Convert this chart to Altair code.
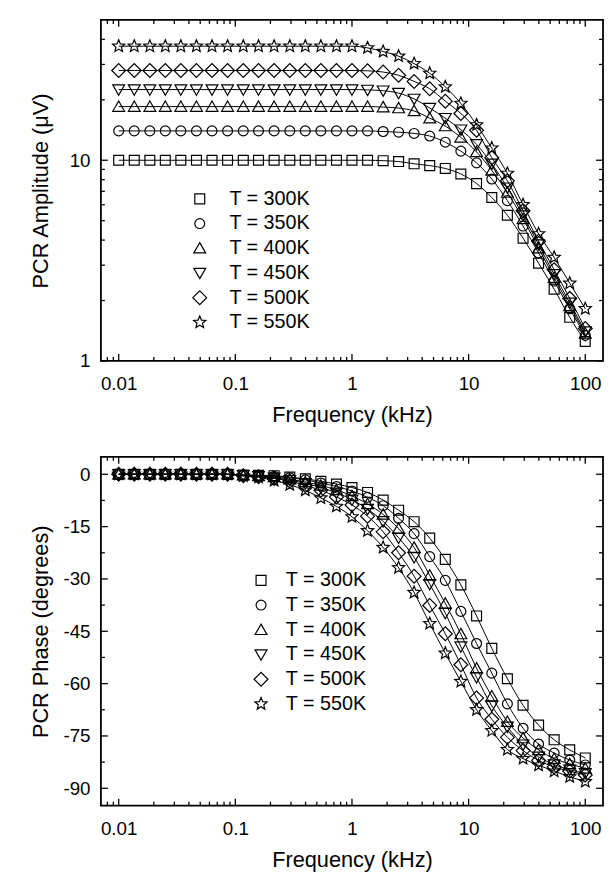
import altair as alt
import pandas as pd

# ---------------- data ----------------
freq_khz = [0.01, 0.0136, 0.0185, 0.0251, 0.0341, 0.0464, 0.0631, 0.0858,
            0.117, 0.158, 0.215, 0.293, 0.398, 0.541, 0.736, 1.0, 1.36,
            1.85, 2.51, 3.41, 4.64, 6.31, 8.58, 11.7, 15.8, 21.5, 29.3,
            39.8, 54.1, 73.6, 100.0]

temps = ["T = 300K", "T = 350K", "T = 400K", "T = 450K", "T = 500K", "T = 550K"]

amp_300 = [10.0] * 17 + [9.95, 9.85, 9.6, 9.4, 9.1, 8.54, 7.65, 6.52, 5.32, 4.09, 3.07, 2.28, 1.65, 1.25]
amp_350 = [14.0] * 17 + [13.9, 13.8, 13.6, 13.2, 12.3, 11.1, 9.7, 8.06, 6.29, 4.7, 3.45, 2.5, 1.82, 1.34]
amp_400 = [18.5] * 17 + [18.4, 18.2, 17.6, 16.2, 14.8, 13.0, 11.0, 8.9, 6.9, 5.1, 3.65, 2.6, 1.88, 1.37]
amp_450 = [22.5] * 16 + [22.4, 22.2, 21.6, 20.2, 18.2, 16.2, 14.2, 12.0, 9.6, 7.3, 5.3, 3.8, 2.7, 1.95, 1.40]
amp_500 = [28.0] * 16 + [27.9, 27.5, 26.5, 24.7, 22.7, 19.7, 17.1, 14.1, 10.3, 7.9, 5.6, 3.95, 2.85, 2.05, 1.45]
amp_550 = [37.0] * 16 + [36.3, 34.8, 33.0, 30.3, 27.1, 23.2, 19.2, 15.0, 11.5, 8.6, 6.0, 4.3, 3.28, 2.44, 1.82]

ph_300 = [0.0] * 8 + [-0.2, -0.3, -0.4, -0.8, -1.3, -2.0, -2.8, -3.8, -5.2, -7.4, -10.3, -13.6, -18.3,
                      -24.4, -31.7, -40.6, -49.9, -58.6, -66.2, -71.9, -76.1, -79.0, -81.3]
ph_350 = [0.0] * 8 + [-0.2, -0.4, -0.6, -1.0, -1.6, -2.5, -3.5, -4.8, -6.6, -9.0, -12.6, -17.0, -23.6,
                      -30.4, -39.3, -48.5, -57.0, -65.8, -72.8, -77.3, -79.9, -81.9, -83.3]
ph_400 = [0.0] * 8 + [-0.3, -0.5, -0.8, -1.4, -2.2, -3.2, -4.5, -6.2, -8.5, -11.5, -15.6, -21.0, -29.0,
                      -37.0, -45.8, -55.6, -63.6, -70.9, -75.6, -79.0, -81.5, -83.0, -84.3]
ph_450 = [0.0] * 8 + [-0.3, -0.6, -1.0, -1.7, -2.6, -3.8, -5.3, -7.3, -10.0, -13.5, -18.2, -23.8, -31.5,
                      -39.8, -49.4, -58.2, -66.4, -72.4, -77.5, -81.0, -83.2, -84.7, -85.7]
ph_500 = [0.0] * 8 + [-0.4, -0.7, -1.2, -2.0, -3.2, -4.6, -6.5, -8.8, -12.0, -16.5, -22.5, -29.2, -37.6,
                      -45.7, -54.6, -64.1, -70.2, -75.4, -79.2, -82.0, -83.9, -85.1, -86.2]
ph_550 = [0.0] * 8 + [-0.5, -0.9, -1.8, -3.0, -4.6, -6.8, -9.2, -12.2, -16.2, -21.0, -26.8, -33.9, -42.8,
                      -51.3, -59.4, -67.5, -73.5, -78.9, -81.5, -83.4, -85.1, -86.7, -88.1]

amp_series = [amp_300, amp_350, amp_400, amp_450, amp_500, amp_550]
ph_series = [ph_300, ph_350, ph_400, ph_450, ph_500, ph_550]

# tick positions
x_major = [0.01, 0.1, 1, 10, 100]
x_minor_mult = [2, 3, 4, 5, 6, 7, 8, 9]
x_minor = [0.008, 0.009] + [m * d for d in [0.01, 0.1, 1, 10] for m in x_minor_mult]
amp_major = [1, 10]
amp_minor = [2, 3, 4, 5, 6, 7, 8, 9, 20, 30, 40]
ph_major = [0, -15, -30, -45, -60, -75, -90]
ph_minor = [-7.5, -22.5, -37.5, -52.5, -67.5, -82.5]

rows = []
for t, a, p in zip(temps, amp_series, ph_series):
    for f, av, pv in zip(freq_khz, a, p):
        rows.append({"f": f, "T": t, "amp": av, "phase": pv})
df = pd.DataFrame(rows)

# ---------------- marker shapes (open symbols, unit box -1..1) ----------------
STAR = ("M0,-1.3L0.344,-0.473L1.236,-0.402L0.556,0.181L0.764,1.052L0,0.585"
        "L-0.764,1.052L-0.556,0.181L-1.236,-0.402L-0.344,-0.473Z")
shapes = [
    "square",
    "circle",
    "M0,-1.15L1.2,0.95L-1.2,0.95Z",      # triangle up
    "M0,1.15L1.2,-0.95L-1.2,-0.95Z",     # triangle down
    "M-1.4,0L0,-1.4L1.4,0L0,1.4Z",       # diamond
    STAR,                                # star
]

# ---------------- styling ----------------
FONT = "Liberation Sans"
MAJ = 7
MIN = 4
W = 508
X_DOMAIN = [0.00704, 142]
LABEL_EXPR = "'' + datum.value"


def label_axis(orient, values, title, label_pad, title_pad, extent):
    # axis carries labels and title only; its own ticks are kept for spacing but hidden
    return alt.Axis(
        orient=orient, values=values, tickSize=MAJ, tickOpacity=0, domain=False, grid=False,
        ticks=True, labels=True, title=title,
        labelExpr=LABEL_EXPR, labelFont=FONT, labelFontSize=19, labelColor="black",
        labelPadding=label_pad, labelOverlap=False, labelFlush=False,
        titleFont=FONT, titleFontSize=22, titleFontWeight="normal", titleColor="black",
        titlePadding=title_pad, minExtent=extent, maxExtent=extent,
    )


def panel(yfield, yscale, y_major, y_minor, ytitle, legend_x, legend_y, label_off, h):
    base = alt.Chart(df)
    xs = alt.Scale(type="log", domain=X_DOMAIN, nice=False)

    lines = base.mark_line(color="black", strokeWidth=1, interpolate="monotone").encode(
        x=alt.X("f:Q", scale=xs,
                axis=label_axis("bottom", x_major, "Frequency (kHz)", 7, 4, 40)),
        y=alt.Y(f"{yfield}:Q", scale=yscale,
                axis=label_axis("left", y_major, ytitle, 4, 5.5, 44)),
        detail="T:N",
    )
    pts = base.mark_point(filled=False, size=100, strokeWidth=1.2, color="black", opacity=1).encode(
        x=alt.X("f:Q", scale=xs, axis=None),
        y=alt.Y(f"{yfield}:Q", scale=yscale, axis=None),
        shape=alt.Shape(
            "T:N",
            scale=alt.Scale(domain=temps, range=shapes),
            legend=alt.Legend(
                orient="none", legendX=legend_x, legendY=legend_y, title=None,
                labelFont=FONT, labelFontSize=20, labelColor="black", labelOffset=label_off,
                symbolSize=100, symbolStrokeWidth=1.2, symbolStrokeColor="black",
                symbolFillColor="transparent", rowPadding=5, padding=0,
            ),
        ),
    )

    # inward tick marks on all four sides, drawn from the tick-value lists
    tick_layers = []
    for vals, ln in [(x_major, MAJ), (x_minor, MIN)]:
        tdf = pd.DataFrame({"v": vals})
        xenc = alt.X("v:Q", scale=xs, axis=None)
        tick_layers.append(alt.Chart(tdf).mark_rule(color="black", strokeWidth=1.3).encode(
            x=xenc, y=alt.value(h), y2=alt.value(h - ln)))
        tick_layers.append(alt.Chart(tdf).mark_rule(color="black", strokeWidth=1.3).encode(
            x=xenc, y=alt.value(0), y2=alt.value(ln)))
    for vals, ln in [(y_major, MAJ), (y_minor, MIN)]:
        tdf = pd.DataFrame({"v": vals})
        yenc = alt.Y("v:Q", scale=yscale, axis=None)
        tick_layers.append(alt.Chart(tdf).mark_rule(color="black", strokeWidth=1.3).encode(
            y=yenc, x=alt.value(0), x2=alt.value(ln)))
        tick_layers.append(alt.Chart(tdf).mark_rule(color="black", strokeWidth=1.3).encode(
            y=yenc, x=alt.value(W), x2=alt.value(W - ln)))

    return (
        alt.layer(lines, pts, *tick_layers)
        .resolve_axis(x="independent", y="independent")
        .properties(width=W, height=h)
    )


top = panel("amp", alt.Scale(type="log", domain=[1, 50], nice=False), amp_major, amp_minor,
            "PCR Amplitude (\u03bcV)", 90, 171, 20, 345)
bottom = panel("phase", alt.Scale(domain=[-95, 5], nice=False, zero=False), ph_major, ph_minor,
               "PCR Phase (degrees)", 152, 115, 15, 353)

chart = (
    alt.vconcat(top, bottom, spacing=29)
    .resolve_scale(shape="independent")
    .resolve_legend(shape="independent")
    .properties(padding={"left": 20, "top": 5, "right": 0, "bottom": 0}, background="white")
    .configure_view(stroke="black", strokeWidth=1.8)
)

chart.save("out.html", embed_options={"renderer": "svg", "actions": False})
